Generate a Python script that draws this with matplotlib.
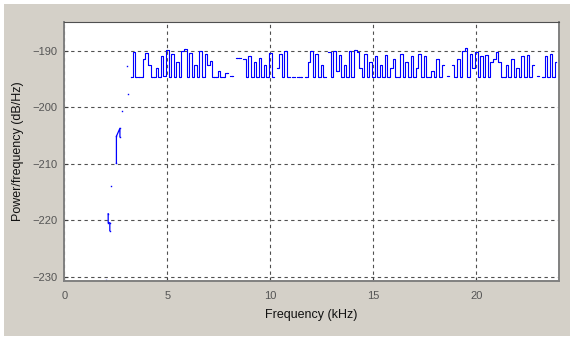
"""Espectro de densidad de potencia (estilo figura MATLAB)."""

import matplotlib
matplotlib.use("Agg")
import matplotlib.pyplot as plt
import numpy as np
from matplotlib.patches import Rectangle

nan = np.nan

# Bins de la banda principal: 3.25 kHz .. 23.875 kHz, paso 0.125 kHz
BAND_START_KHZ = 3.25
BAND_STEP_KHZ = 0.125

band_a = [-194.7, -190.2, -194.7, -194.7, -194.7, -191.5, -190.3, -192.5, -194.7,
          -194.7, -193.0, -194.7, -191.0, -194.5, -189.8, -194.7, -190.5, -194.7,
          -192.0, -194.7, -190.0, -189.6, -194.7, -190.4, -194.7, -192.5, -194.7]
band_b = [-190.0, -194.7, -190.5, -192.5, -191.8, -194.7, -194.7, -193.5, -194.7,
          -194.7, -194.0, nan, -194.5, nan, -191.3, -191.3, nan, -191.5, -194.7,
          -191.0, -194.7, -192.0, -194.7, -191.2, -194.7, -192.5, -194.7, -190.3]
band_c = [-194.7, nan, -193.0, -190.5, -194.7, -190.0, -194.7, nan, -194.7, nan,
          -194.7, -194.7, nan, -194.7, -192.0, -190.0, -194.7, -190.5, -194.7,
          -192.5, -194.7, nan, -190.2, -194.7, -190.0, -193.5, -190.8, -194.7]
band_d = [-192.5, -194.7, -190.0, -194.7, -189.8, -190.2, -193.0, -194.7, -190.5,
          -194.7, -192.0, -194.7, -191.0, -194.7, -192.5, -194.7, -190.8, -194.7,
          -193.0, -191.5, -194.7, -194.7, -190.5, -194.7, -192.0, -194.7, -191.0,
          -194.7, -193.0]
band_e = [-190.5, -194.7, -191.0, -194.7, -194.7, -193.5, -194.7, -191.5, -194.7,
          -192.5, nan, -194.5, nan, -192.5, -194.7, -191.5, -194.7, -190.0, -189.5,
          -194.7, -190.5, -193.0, -190.2, -194.7, -191.0, -194.7, -190.8, -194.7]
band_f = [-192.0, -191.5, -190.2, -192.0, -194.7, -194.7, -192.5, -194.7, -191.5,
          -194.7, -193.0, -194.7, -191.0, -194.7, -190.8, -194.7, -192.5, nan,
          -194.5, nan, -194.7, -191.0, -194.7, -190.5, -194.7, -192.0]

# Zona de baja frecuencia (puntos y tramos sueltos)
low_freq = [2.02, nan, 2.13, 2.13, 2.21, 2.21, nan, 2.29, nan, 2.53, 2.53, 2.70,
            2.70, nan, 2.82, nan, 3.05, nan, 3.10]
low_psd = [-230.5, nan, -218.8, -220.4, -220.4, -221.8, nan, -213.9, nan, -209.9,
           -205.1, -203.7, -205.2, nan, -200.6, nan, -192.7, nan, -197.7]

x_ticks = [0, 5, 10, 15, 20]
y_ticks = [-230, -220, -210, -200, -190]

plt.rcParams["font.family"] = ["Liberation Sans", "DejaVu Sans"]

band_psd = np.array(band_a + band_b + band_c + band_d + band_e + band_f)
band_freq = BAND_START_KHZ + BAND_STEP_KHZ * np.arange(len(band_psd))

fig = plt.figure(figsize=(5.76, 3.4), dpi=100, facecolor="white")
fig.patches.append(Rectangle((4 / 576, 4 / 340), 566 / 576, 332 / 340,
                             transform=fig.transFigure, facecolor="#d4d0c8",
                             edgecolor="none", zorder=-10))
ax = fig.add_axes([64.3 / 576, 1 - 281 / 340, 494.4 / 576, 259 / 340])
ax.set_zorder(1)
ax.set_facecolor("white")

ax.plot(band_freq, band_psd, color="#0000ff", lw=0.8, drawstyle="steps-mid",
        marker="s", markersize=0.8, markeredgewidth=0)
ax.plot(low_freq, low_psd, color="#0000ff", lw=0.9, marker="s", markersize=1.0,
        markeredgewidth=0)

ax.set_xlim(0, 24)
ax.set_ylim(-230.7, -184.9)
ax.set_xticks(x_ticks)
ax.set_yticks(y_ticks)
ax.tick_params(direction="in", length=3, labelsize=8, labelcolor="#555555",
               color="#404040", width=0.8)
ax.tick_params(axis="x", pad=7)
ax.tick_params(axis="y", pad=5)
ax.grid(True, color="#505050", ls=(0, (3, 3)), lw=0.8)
for side, spine in ax.spines.items():
    spine.set_color("#808080" if side in ("left", "bottom", "right") else "#505050")
    spine.set_linewidth(1.4 if side in ("left", "bottom", "right") else 0.8)

ax.set_xlabel("Frequency (kHz)", fontsize=9, color="#111111", labelpad=6)
ax.set_ylabel("Power/frequency (dB/Hz)", fontsize=9, color="#111111", labelpad=6)

plt.savefig("out.png", dpi=100, facecolor=fig.get_facecolor())
plt.close()
